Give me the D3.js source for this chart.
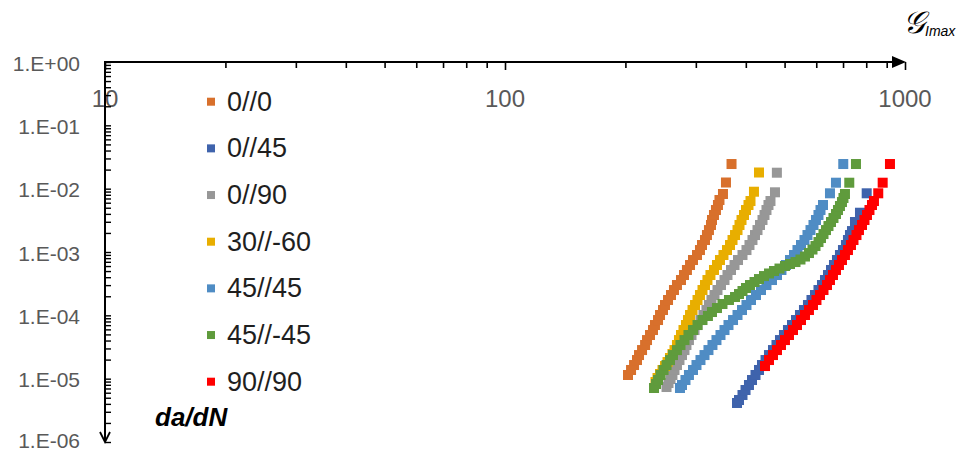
<!DOCTYPE html>
<html>
<head>
<meta charset="utf-8">
<script src="https://cdn.jsdelivr.net/npm/d3@7"></script>
<style>
  html, body { margin: 0; padding: 0; background: #ffffff; }
  svg { display: block; }
</style>
</head>
<body>
<svg id="chart" width="959" height="450"></svg>
<script>
// Crack growth rate da/dN against the maximum energy release rate, by lay-up
const seriesNames = ["0//0", "0//45", "0//90", "30//-60", "45//45", "45//-45", "90//90"];
const seriesColors = ["#D8702C", "#3F63AC", "#979797", "#E8AE00", "#4F8CC4", "#5F9B3C", "#FF0000"];

const xTickLabels = ["10", "100", "1000"];
const yTickLabels = ["1.E+00", "1.E-01", "1.E-02", "1.E-03", "1.E-04", "1.E-05", "1.E-06"];

// [G_Imax, da/dN]
const ply0_0 = [
  [203.0,1.143e-5],[206.6,1.371e-5],[210.2,1.642e-5],[213.8,1.969e-5],[216.3,2.36e-5],
  [220.1,2.83e-5],[224.0,3.40e-5],[226.5,4.07e-5],[230.4,4.89e-5],[234.4,5.86e-5],
  [237.1,7.03e-5],[241.3,8.43e-5],[244.1,1.012e-4],[248.3,1.213e-4],[251.2,1.455e-4],
  [255.6,1.746e-4],[260.0,2.093e-4],[264.5,2.51e-4],[269.1,3.01e-4],[275.4,3.61e-4],
  [280.2,4.33e-4],[285.0,5.20e-4],[290.1,6.23e-4],[295.1,7.47e-4],[302.0,8.96e-4],
  [307.2,1.074e-3],[310.8,1.289e-3],[316.2,1.546e-3],[319.8,1.853e-3],[323.5,2.22e-3],
  [327.3,2.67e-3],[329.2,3.20e-3],[333.0,3.84e-3],[336.8,4.60e-3],[340.7,5.52e-3],
  [343.7,6.62e-3],[350.7,8.24e-3],[356.8,1.251e-2],[368.4,2.45e-2]
];
const ply0_45 = [
  [380.2,4.13e-6],[384.6,4.60e-6],[392.4,5.52e-6],[399.3,6.62e-6],[407.3,7.94e-6],
  [414.5,9.52e-6],[422.9,1.143e-5],[431.5,1.371e-5],[439.0,1.642e-5],[448.0,1.969e-5],
  [457.0,2.36e-5],[467.7,2.83e-5],[477.2,3.40e-5],[486.9,4.07e-5],[498.2,4.89e-5],
  [509.8,5.86e-5],[521.8,7.03e-5],[533.9,8.43e-5],[546.3,1.012e-4],[559.0,1.213e-4],
  [572.0,1.455e-4],[583.7,1.746e-4],[595.6,2.093e-4],[607.7,2.51e-4],[620.1,3.01e-4],
  [630.9,3.61e-4],[641.9,4.33e-4],[653.1,5.20e-4],[664.4,6.23e-4],[676.0,7.47e-4],
  [687.7,8.96e-4],[699.7,1.074e-3],[711.8,1.289e-3],[720.1,1.546e-3],[728.5,1.853e-3],
  [737.0,2.14e-3],[749.8,2.975e-3],[771.7,4.17e-3],[802.1,8.45e-3]
];
const ply0_90 = [
  [253.4,7.38e-6],[256.3,8.53e-6],[259.3,9.88e-6],[262.2,1.143e-5],[265.3,1.371e-5],
  [269.1,1.642e-5],[273.0,1.969e-5],[277.0,2.36e-5],[281.0,2.83e-5],[284.2,3.40e-5],
  [288.3,4.07e-5],[292.6,4.89e-5],[297.7,5.86e-5],[302.9,7.03e-5],[308.1,8.43e-5],
  [313.5,1.012e-4],[318.9,1.213e-4],[323.5,1.455e-4],[328.2,1.746e-4],[334.0,2.093e-4],
  [339.8,2.51e-4],[346.7,3.01e-4],[353.8,3.61e-4],[359.9,4.33e-4],[367.3,5.20e-4],
  [374.8,6.23e-4],[382.4,7.47e-4],[392.4,8.96e-4],[401.5,1.074e-3],[408.5,1.289e-3],
  [415.6,1.546e-3],[421.7,1.853e-3],[427.8,2.22e-3],[434.0,2.67e-3],[440.3,3.20e-3],
  [445.4,3.84e-3],[450.5,4.60e-3],[455.7,5.52e-3],[461.0,6.38e-3],[473.1,8.76e-3],
  [478.3,1.787e-2]
];
const ply30_m60 = [
  [237.8,8.85e-6],[240.6,1.025e-5],[244.1,1.185e-5],[247.6,1.371e-5],[251.2,1.583e-5],
  [254.9,1.831e-5],[258.5,2.12e-5],[262.2,2.45e-5],[265.3,2.83e-5],[269.1,3.40e-5],
  [272.2,4.07e-5],[275.4,4.89e-5],[279.4,5.86e-5],[283.4,7.03e-5],[286.7,8.43e-5],
  [290.1,1.012e-4],[294.3,1.213e-4],[298.6,1.455e-4],[302.9,1.746e-4],[307.2,2.093e-4],
  [311.7,2.51e-4],[316.2,3.01e-4],[320.7,3.61e-4],[326.3,4.33e-4],[333.0,5.20e-4],
  [338.8,6.23e-4],[344.7,7.47e-4],[351.7,8.96e-4],[358.9,1.074e-3],[365.2,1.289e-3],
  [370.5,1.546e-3],[375.9,1.853e-3],[381.3,2.22e-3],[385.7,2.67e-3],[390.2,3.20e-3],
  [395.8,3.84e-3],[400.4,4.60e-3],[406.2,5.52e-3],[410.9,6.38e-3],[419.2,8.95e-3],
  [431.5,1.80e-2]
];
const ply45_45 = [
  [273.8,7.12e-6],[277.0,7.94e-6],[282.6,9.52e-6],[288.3,1.143e-5],[295.1,1.371e-5],
  [301.1,1.642e-5],[308.1,1.969e-5],[315.3,2.36e-5],[322.6,2.83e-5],[330.1,3.40e-5],
  [337.8,4.07e-5],[345.7,4.89e-5],[353.8,5.86e-5],[362.0,7.03e-5],[371.6,8.43e-5],
  [381.3,1.012e-4],[391.3,1.213e-4],[401.5,1.455e-4],[412.1,1.746e-4],[424.1,2.093e-4],
  [436.5,2.51e-4],[450.5,3.01e-4],[465.0,3.61e-4],[478.6,4.33e-4],[491.1,5.20e-4],
  [504.0,6.23e-4],[515.8,7.47e-4],[527.8,8.96e-4],[538.5,1.074e-3],[549.5,1.289e-3],
  [560.7,1.546e-3],[570.4,1.853e-3],[580.4,2.22e-3],[590.5,2.67e-3],[599.0,3.20e-3],
  [607.7,3.84e-3],[614.8,4.60e-3],[623.7,5.52e-3],[649.3,8.45e-3],[672.1,1.242e-2],
  [700.9,2.45e-2]
];
const ply45_m45 = [
  [235.8,7.12e-6],[238.5,8.23e-6],[241.3,9.52e-6],[244.8,1.143e-5],[249.1,1.371e-5],
  [253.4,1.642e-5],[258.5,1.969e-5],[263.0,2.36e-5],[269.1,2.83e-5],[274.6,3.40e-5],
  [281.0,4.07e-5],[287.5,4.89e-5],[295.1,5.86e-5],[302.9,7.03e-5],[311.7,8.43e-5],
  [321.6,9.76e-5],[329.2,1.128e-4],[338.8,1.304e-4],[349.7,1.509e-4],[363.0,1.746e-4],
  [375.9,1.946e-4],[384.6,2.17e-4],[392.4,2.42e-4],[400.4,2.70e-4],[409.7,3.01e-4],
  [420.5,3.36e-4],[431.5,3.74e-4],[444.1,4.17e-4],[457.1,4.58e-4],[470.4,5.01e-4],
  [485.5,5.48e-4],[501.1,6.01e-4],[515.8,6.46e-4],[532.4,6.94e-4],[547.9,7.61e-4],
  [562.3,8.48e-4],[575.3,9.63e-4],[587.1,1.094e-3],[597.3,1.243e-3],[607.7,1.437e-3],
  [616.6,1.661e-3],[625.5,1.919e-3],[634.5,2.22e-3],[643.7,2.57e-3],[653.1,2.975e-3],
  [662.5,3.44e-3],[672.1,3.98e-3],[679.9,4.60e-3],[687.7,5.32e-3],[695.7,6.15e-3],
  [701.7,7.12e-3],[707.8,8.24e-3],[725.6,1.242e-2],[754.1,2.45e-2]
];
const ply90_90 = [
  [446.7,1.583e-5],[457.1,1.969e-5],[467.7,2.36e-5],[478.6,2.83e-5],[489.7,3.40e-5],
  [501.1,4.07e-5],[512.8,4.89e-5],[524.8,5.86e-5],[537.0,7.03e-5],[549.5,8.43e-5],
  [562.3,1.012e-4],[575.3,1.213e-4],[588.8,1.455e-4],[600.7,1.746e-4],[613.0,2.093e-4],
  [625.5,2.51e-4],[638.2,3.01e-4],[649.3,3.61e-4],[660.6,4.33e-4],[672.1,5.20e-4],
  [683.8,6.23e-4],[695.7,7.47e-4],[707.8,8.96e-4],[720.1,1.074e-3],[732.7,1.289e-3],
  [743.4,1.546e-3],[756.3,1.853e-3],[767.2,2.22e-3],[780.7,2.67e-3],[792.0,3.20e-3],
  [803.4,3.84e-3],[815.0,4.60e-3],[826.9,5.52e-3],[836.4,6.38e-3],[857.3,8.45e-3],
  [879.4,1.242e-2],[917.1,2.45e-2]
];
const seriesData = [ply0_0, ply0_45, ply0_90, ply30_m60, ply45_45, ply45_m45, ply90_90];

const svg = d3.select("#chart");
const FONT = "'Liberation Sans', Arial, sans-serif";

const x = d3.scaleLog().domain([10, 1000]).range([105, 905]);
const y = d3.scaleLog().domain([1, 1e-6]).range([62, 442]);

const xTicks = [];
for (let e = 1; e < 3; e++) for (let m = 1; m < 10; m++) xTicks.push(m * Math.pow(10, e));
xTicks.push(1000);
const yTicks = [];
for (let e = 0; e > -6; e--) for (let m = 1; m < 10; m++) yTicks.push(m * Math.pow(10, e - 1));
yTicks.push(1);

// data points (square markers)
const markerSize = 10;
seriesData.forEach((pts, i) => {
  svg.append("g")
    .selectAll("rect")
    .data(pts)
    .join("rect")
    .attr("x", d => x(d[0]) - markerSize / 2)
    .attr("y", d => y(d[1]) - markerSize / 2)
    .attr("width", markerSize)
    .attr("height", markerSize)
    .attr("fill", seriesColors[i]);
});

// horizontal axis along the top
const gx = svg.append("g")
  .attr("transform", "translate(0,62)")
  .call(d3.axisBottom(x).tickValues(xTicks).tickFormat("").tickSizeOuter(0)
    .tickSize(6));
gx.select(".domain").remove();
gx.selectAll(".tick line")
  .attr("stroke", "#000")
  .attr("stroke-width", 1.6)
  .attr("y2", d => ([10, 100, 1000].includes(d) ? 8 : 6));

svg.append("line")
  .attr("x1", 105).attr("x2", 896)
  .attr("y1", 62).attr("y2", 62)
  .attr("stroke", "#000").attr("stroke-width", 2);
svg.append("path")
  .attr("d", "M892,56 L906,62 L892,68 Z")
  .attr("fill", "#000");

svg.append("g")
  .selectAll("text")
  .data([10, 100, 1000])
  .join("text")
  .attr("x", d => x(d))
  .attr("y", 98)
  .attr("text-anchor", "middle")
  .attr("dominant-baseline", "central")
  .attr("font-family", FONT)
  .attr("font-size", 24)
  .attr("fill", "#595959")
  .text((d, i) => xTickLabels[i]);

// vertical axis pointing down
const gy = svg.append("g")
  .attr("transform", "translate(105,0)")
  .call(d3.axisRight(y).tickValues(yTicks).tickFormat("").tickSizeOuter(0)
    .tickSize(6));
gy.select(".domain").remove();
gy.selectAll(".tick line")
  .attr("stroke", "#000")
  .attr("stroke-width", 1.4);

svg.append("line")
  .attr("x1", 105).attr("x2", 105)
  .attr("y1", 61).attr("y2", 442)
  .attr("stroke", "#000").attr("stroke-width", 2);
svg.append("path")
  .attr("d", "M100,432 L105,442 L110,432")
  .attr("fill", "none")
  .attr("stroke", "#000")
  .attr("stroke-width", 1.8);

svg.append("g")
  .selectAll("text")
  .data(d3.range(7))
  .join("text")
  .attr("x", 80)
  .attr("y", d => Math.min(y(Math.pow(10, -d)) + 1, 440))
  .attr("text-anchor", "end")
  .attr("dominant-baseline", "central")
  .attr("font-family", FONT)
  .attr("font-size", 21)
  .attr("fill", "#595959")
  .text(d => yTickLabels[d]);

// axis titles
const title = svg.append("text")
  .attr("x", 903)
  .attr("y", 33)
  .attr("fill", "#000");
title.append("tspan")
  .attr("font-family", "'DejaVu Serif', serif")
  .attr("font-style", "italic")
  .attr("font-size", 31)
  .text("𝒢");
title.append("tspan")
  .attr("font-family", FONT)
  .attr("font-style", "italic")
  .attr("font-size", 14)
  .attr("dy", 3)
  .text("Imax");

svg.append("text")
  .attr("x", 155)
  .attr("y", 426)
  .attr("font-family", FONT)
  .attr("font-weight", "bold")
  .attr("font-style", "italic")
  .attr("font-size", 26)
  .attr("fill", "#000")
  .text("da/dN");

// legend
const legend = svg.append("g");
const rowY = d3.scaleLinear().domain([0, 6]).range([101.7, 381.7]);
seriesNames.forEach((name, i) => {
  legend.append("rect")
    .attr("x", 207).attr("y", rowY(i) - 4)
    .attr("width", 8).attr("height", 8)
    .attr("fill", seriesColors[i]);
  legend.append("text")
    .attr("x", 227)
    .attr("y", rowY(i))
    .attr("dominant-baseline", "central")
    .attr("font-family", FONT)
    .attr("font-size", 27)
    .attr("fill", "#1f1f1f")
    .text(name);
});
</script>
</body>
</html>
